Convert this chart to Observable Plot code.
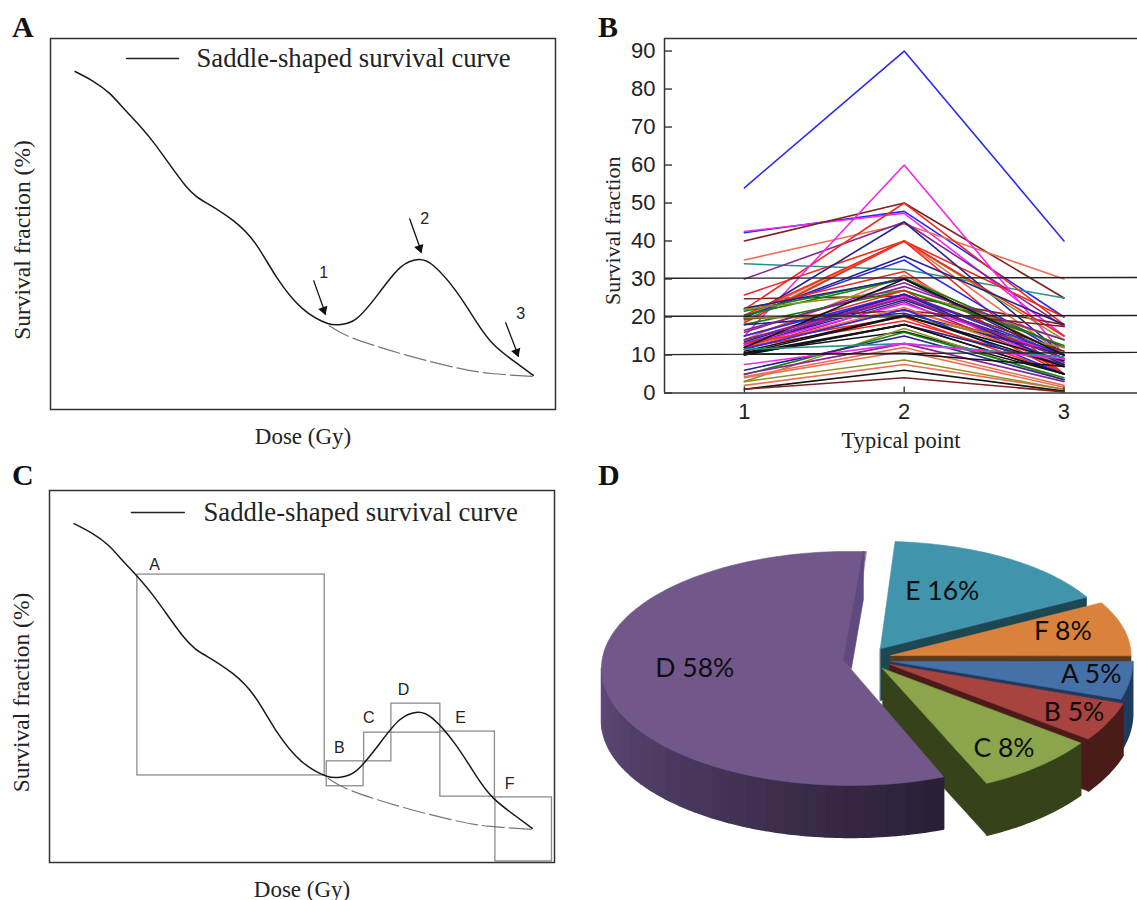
<!DOCTYPE html>
<html><head><meta charset="utf-8">
<style>
html,body{margin:0;padding:0;background:#fff}
#page{position:relative;width:1137px;height:900px;overflow:hidden;background:#fff}
#page svg{position:absolute;background:transparent;overflow:hidden}
.tag{position:absolute;font:bold 30px "Liberation Serif",serif;color:#111;line-height:1}
</style>
<script src="https://cdn.jsdelivr.net/npm/d3@7"></script>
<script src="https://cdn.jsdelivr.net/npm/@observablehq/plot@0.6"></script>
</head><body><div id="page"></div>
<script>
// ---- Panels A and C: survival curve (dose and survival in % of the frame)
const curveDose = [4.85,8.3,11.7,15.2,20.4,26.7,31.1,36.2,40.6,44.8,49.9,54.9,57.4,60.6,65,69.3,72.9,75.8,80.2,84.4,87.9,92.1,95.6];
const curveSurv = [91.1,88.6,85.2,80.1,72,60.4,55.5,50.9,44.7,35.6,27.2,23.2,22.9,24.5,31.3,38.3,40.4,38.8,32.1,23.5,17.3,12.7,9.2];
const dashDose = [55.2,59.6,69.3,80.2,87.3,95.6];
const dashSurv = [22.6,19.4,15.1,11.3,9.7,8.9];
const arrowLabels = ["1","2","3"];
const arrowX1 = [52.1,71.1,90.1], arrowY1 = [34.8,51.5,23.5];
const arrowX2 = [54.5,73.5,92.7], arrowY2 = [25.6,42.3,14.3];
const arrowTextX = [54.1,74.1,93.1], arrowTextY = [36.7,51.5,25.9];
const regionNames = ["A","B","C","D","E","F"];
const regionX1 = [17.4,54.9,62.3,67.7,77.4,88.3];
const regionX2 = [54.5,62.2,67.7,77.4,88.2,99.5];
const regionY1 = [23.4,20.5,27.2,34.9,17.7,0.3];
const regionY2 = [77.4,27.2,34.9,42.7,35.2,17.5];
const regionTextX = [20.8,57.4,63.2,70.1,81.4,91.1];
const regionTextY = [80.1,30.9,39,46.5,39,21.2];

// ---- Panel B: one entry per line, values at typical points 1, 2, 3
const typicalPoints = [1,2,3];
const atPoint1 = [54,42.2,42.5,40,35,34,30,25.8,24.8,22,15,19.5,19,18.5,20,20.5,20,20,22,14,21.5,20.5,22.3,16,22,18,15,12,14,13,13,12.5,11.5,12.5,12,19.5,18,12,19.8,13,12,15,16.5,13.5,12,11.5,14,10,10,11,10.5,10.5,3,4.8,10.5,6,11.5,5,7.5,4.3,2,4,3,1,1,10.2];
const atPoint2 = [90,47.8,47.3,50,44.5,32.5,45,40,25.5,50,60,45,40,40,40,40,36,35,32,31,30.2,30,30,29,27,27,27,26,26,25.5,25,24.5,24,23.5,22,21.7,21,22.5,20,20,19,26,28,26,30,22,25,18,18,20.5,20.3,16.2,17,16,18,15,13,13,13,12,7.5,11,8.7,6,4,10.4];
const atPoint3 = [40,20,15,25,30,25,17.5,20,18,18,10,10,14,15,10,5,18,10,5,10,12,10,9,12,14,12.5,5,11,10,7,8,10,7,10,10,17.5,10,7.5,12,5,7,10,14,7.5,10,5,9,7.5,5,7,8.5,5,3.5,4,5,3.5,9.5,3,9,2,1,1.5,1,0.5,0.3,7];
const lineColors = ["blue","blue","magenta","darkred","salmon","teal","purple","red","darkred","red","magenta","navy","olive","red","salmon","red","navy","blue","red","salmon","green","green","navy","purple","olive","green","red","darkred","purple","magenta","purple","navy","purple","magenta","red","darkred","navy","salmon","olive","red","red","blue","purple","navy","black","blue","purple","navy","black","black","black","black","olive","green","black","navy","teal","purple","magenta","salmon","salmon","salmon","olive","black","darkred","black"];
const colorOf = {blue:"#2a2af0",magenta:"#f426ee",darkred:"#7e2020",salmon:"#ee6e55",teal:"#28908c",purple:"#85268f",red:"#f2281f",navy:"#24248c",olive:"#8f8f26",green:"#128012",black:"#141414"};
const guideLevels = [10.1,20.2,30.2], guideLevelsEnd = [10.7,20.4,30.4];
const yTicksB = [0,10,20,30,40,50,60,70,80,90];

// ---- Panel D: shares (%), clockwise from the A slice
const sliceNames = ["A","B","C","D","E","F"];
const sliceShares = [5,5,8,58,16,8];
const sliceTop = {A:"#4570a8",B:"#a8433f",C:"#8aa54c",D:"#72578b",E:"#4095ad",F:"#da823c"};
const sliceWall = {A:"#1f3a5c",B:"#4a1b18",C:"#36431a",D:"#5f4a80",E:"#1c4753",F:"#5c3a1c"};
const sliceLabels = ["D 58%","E 16%","F 8%","A 5%","B 5%","C 8%"];
const sliceLabelX = [-0.625,0.369,0.853,0.967,0.898,0.617];
const sliceLabelY = [0,0.309,0.149,-0.024,-0.177,-0.32];

const page = document.getElementById("page");
const serif = "Liberation Serif", sans = "Liberation Sans";

function curvePanel(opts){
  const {top,height,left,mTop,mBottom,legendY,legendX1,legendX2,legendTextX,extra} = opts;
  const chart = Plot.plot({
    width:570,height,marginLeft:left,marginRight:570-left-505,marginTop:mTop,marginBottom:mBottom,
    x:{domain:[0,100]},y:{domain:[0,100],axis:null},
    style:{position:"absolute",left:"0px",top:top+"px"},
    marks:[
      Plot.axisX({ticks:[],tickSize:0,label:"Dose (Gy)",labelAnchor:"center",labelArrow:"none",labelOffset:34,fontSize:23,fontFamily:serif,fill:"#222"}),
      Plot.text(["Survival fraction (%)"],{frameAnchor:"left",textAnchor:"middle",rotate:-90,dx:-28,dy:16,fontSize:23.5,fontFamily:serif,fill:"#222"}),
      ...extra,
      Plot.line(dashDose.map((x,i)=>({x,y:dashSurv[i]})),{x:"x",y:"y",curve:"natural",stroke:"#777",strokeWidth:1.2,strokeDasharray:"22 5"}),
      Plot.line(curveDose.map((x,i)=>({x,y:curveSurv[i]})),{x:"x",y:"y",curve:"natural",stroke:"#1a1a1a",strokeWidth:1.5}),
      Plot.line([{x:legendX1,y:legendY},{x:legendX2,y:legendY}],{x:"x",y:"y",stroke:"#222",strokeWidth:1.4}),
      Plot.text(["Saddle-shaped survival curve"],{x:legendTextX,y:legendY,textAnchor:"start",fontSize:26.7,fontFamily:serif,fill:"#222"}),
      Plot.frame({stroke:"#333",strokeWidth:1.5})
    ]
  });
  page.appendChild(chart);
}

const arrowData = arrowLabels.map((t,i)=>({t,x1:arrowX1[i],y1:arrowY1[i],x2:arrowX2[i],y2:arrowY2[i],tx:arrowTextX[i],ty:arrowTextY[i]}));
curvePanel({top:0,height:455,left:50,mTop:38,mBottom:46,legendY:94.6,legendX1:15.05,legendX2:25.35,legendTextX:28.9,extra:[
  Plot.link(arrowData,{x1:"x1",y1:"y1",x2:"x2",y2:"y2",stroke:"#111",strokeWidth:1.3}),
  Plot.dot(arrowData,{x:d=>d.x2-0.4,y:d=>d.y2+1.2,symbol:"triangle",r:3.6,rotate:161,fill:"#111",stroke:"none"}),
  Plot.text(arrowData,{x:"tx",y:"ty",text:"t",fontSize:16,fontFamily:sans,fill:"#222"})
]});

const regionData = regionNames.map((t,i)=>({t,x1:regionX1[i],x2:regionX2[i],y1:regionY1[i],y2:regionY2[i],tx:regionTextX[i],ty:regionTextY[i]}));
curvePanel({top:455,height:445,left:49,mTop:35,mBottom:38,legendY:94.1,legendX1:16.2,legendX2:26.7,legendTextX:30.5,extra:[
  Plot.rect(regionData,{x1:"x1",x2:"x2",y1:"y1",y2:"y2",fill:"none",stroke:"#8c8c8c",strokeWidth:1.3}),
  Plot.text(regionData,{x:"tx",y:"ty",text:"t",fontSize:16,fontFamily:sans,fill:"#222"})
]});

// ---- Panel B
const linePoints = atPoint1.flatMap((v,i)=>[v,atPoint2[i],atPoint3[i]].map((y,k)=>({id:i,x:typicalPoints[k],y,c:colorOf[lineColors[i]]})));
const xEnd = 3.46, xStart = 0.5, yTop = 93.3;
page.appendChild(Plot.plot({
  width:547,height:455,marginLeft:74,marginRight:0,marginTop:38,marginBottom:62.5,
  x:{domain:[xStart,xEnd]},y:{domain:[0,yTop]},
  style:{position:"absolute",left:"590px",top:"0px"},
  marks:[
    Plot.axisX({ticks:typicalPoints,tickFormat:d=>d,tickSize:0,tickPadding:10,label:null,fontSize:22,fontFamily:sans,fill:"#222"}),
    Plot.axisX({ticks:[],tickSize:0,label:"Typical point",labelAnchor:"center",labelArrow:"none",labelOffset:55,fontSize:22.5,fontFamily:serif,fill:"#222"}),
    Plot.axisY({ticks:yTicksB,tickFormat:d=>d,tickSize:0,tickPadding:9,label:null,fontSize:22,fontFamily:sans,fill:"#222"}),
    Plot.text(["Survival fraction"],{frameAnchor:"left",textAnchor:"middle",rotate:-90,dx:-52,dy:15,fontSize:22,fontFamily:serif,fill:"#222"}),
    Plot.line(linePoints,{x:"x",y:"y",z:"id",stroke:"c",strokeWidth:1.6}),
    ...guideLevels.map((v,i)=>Plot.line([{x:xStart,y:v},{x:xEnd,y:guideLevelsEnd[i]}],{x:"x",y:"y",stroke:"#222",strokeWidth:1.4})),
    Plot.ruleX(typicalPoints,{x:d=>d,y1:0,y2:1.6,stroke:"#333",strokeWidth:1.4}),
    Plot.ruleY(yTicksB,{y:d=>d,x1:xStart,x2:xStart+0.05,stroke:"#333",strokeWidth:1.4}),
    Plot.ruleX([xStart],{stroke:"#333",strokeWidth:1.5}),
    Plot.ruleY([0],{stroke:"#333",strokeWidth:1.5}),
    Plot.ruleY([yTop],{stroke:"#333",strokeWidth:1.5})
  ]
}));

// ---- Panel D: exploded 3-D pie, built from the shares
const startAngle = 90, depth = 0.209;
const layout = {
  D:{cx:0,cy:0,rx:1,ry:0.47,trim:3.2},
  E:{cx:0.12,cy:0.08,rx:0.945,ry:0.43,trim:0},
  F:{cx:0.162,cy:0.052,rx:0.965,ry:0.44,trim:0},
  A:{cx:0.166,cy:0.028,rx:0.968,ry:0.49,trim:0},
  B:{cx:0.159,cy:0.016,rx:0.984,ry:0.51,trim:0},
  C:{cx:0.129,cy:0,rx:0.984,ry:0.51,trim:0}
};
let running = startAngle;
const slices = {};
sliceNames.forEach((n,i)=>{const a0=running,a1=running+sliceShares[i]*3.6;running=a1;slices[n]={name:n,a0:a0+layout[n].trim,a1,...layout[n]};});
const rad = d=>d*Math.PI/180;
const rim = (s,a,drop=0)=>({x:s.cx+s.rx*Math.sin(rad(a)),y:s.cy+s.ry*Math.cos(rad(a))-drop});
const poly = (pts,fill,sw=0.6)=>Plot.line(pts,{x:"x",y:"y",fill,stroke:fill,strokeWidth:sw,curve:"linear-closed"});
const mix = d3.interpolateRgb("#2b1f37","#604c7c");
const pieMarks = [];
for(const n of ["E","F","A","B","C","D"]){
  const s = slices[n], wall = sliceWall[n];
  if(n!=="D") pieMarks.push(poly([{x:s.cx,y:s.cy},rim(s,s.a1),rim(s,s.a1,depth),{x:s.cx,y:s.cy-depth}],wall));
  const from = Math.max(s.a0,90), to = Math.min(s.a1,270);
  if(to>from){
    const steps = n==="D" ? 24 : 1;
    const arc = (a,b)=>{const ts=[...d3.range(a,b,1),b];return [...ts.map(t=>rim(s,t)),...ts.slice().reverse().map(t=>rim(s,t,depth))];};
    for(let k=0;k<steps;k++){
      const a = from+(to-from)*k/steps, b = from+(to-from)*(k+1)/steps;
      const f = n==="D" ? mix((a-from)/(to-from)) : wall;
      pieMarks.push(poly(arc(a,b),f,1.4));
    }
  }
  const top = [{x:s.cx,y:s.cy}];
  for(let a=s.a0;a<=s.a1+0.001;a+=1.5) top.push(rim(s,a));
  top.push(rim(s,s.a1));
  pieMarks.push(poly(top,sliceTop[n]));
}
pieMarks.push(poly([{x:0.052,y:0.47},{x:0.052,y:0.277},{x:0.004,y:0},{x:-0.028,y:0.032}],sliceWall.D));
page.appendChild(Plot.plot({
  width:547,height:445,margin:0,
  x:{domain:[-1.044,1.153],axis:null},y:{domain:[-0.932,0.855],axis:null},
  style:{position:"absolute",left:"590px",top:"455px"},
  marks:[
    ...pieMarks,
    Plot.text(sliceLabels.map((t,i)=>({t,x:sliceLabelX[i],y:sliceLabelY[i]})),{x:"x",y:"y",text:"t",fontSize:26.5,fontFamily:"Lato",fill:"#0d0d0d"})
  ]
}));

// ---- Panel letters
[["A",12,12],["B",598,12],["C",12,460],["D",598,460]].forEach(([t,l,tp])=>{
  const el=document.createElement("div");el.className="tag";el.textContent=t;el.style.left=l+"px";el.style.top=tp+"px";page.appendChild(el);
});
</script></body></html>
